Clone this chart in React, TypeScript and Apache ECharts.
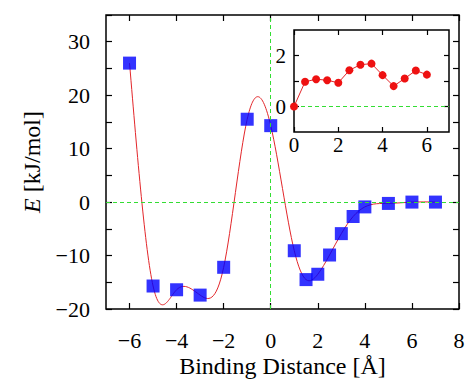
import React, { useEffect, useRef } from "react";
import * as echarts from "echarts";

// Main data: binding energy vs binding distance
const distMain = [-6, -5, -4, -3, -2, -1, 0, 1, 1.5, 2, 2.5, 3, 3.5, 4, 5, 6, 7];
const energyMain = [26, -15.7, -16.4, -17.4, -12.2, 15.5, 14.3, -9.1, -14.5, -13.5, -9.9, -5.9, -2.7, -0.9, -0.25, 0, 0];

// Inset data
const distInset = [0, 0.5, 1, 1.5, 2, 2.5, 3, 3.5, 4, 4.5, 5, 5.5, 6];
const energyInset = [0, 0.97, 1.07, 1.03, 0.93, 1.42, 1.64, 1.68, 1.23, 0.8, 1.1, 1.41, 1.25];

// Tick values
const mainXTicks = [-6, -4, -2, 0, 2, 4, 6, 8];
const insetXTicks = [0, 2, 4, 6];
const insetYTicks = [0, 1, 2];
const insetYLabels = [0, 2];

const FONT = "Liberation Serif";
const fmt = (v: number) => (v < 0 ? "\u2212" + Math.abs(v) : String(v));

// Natural cubic spline slopes (as gnuplot "smooth csplines") at each data point
function splineSlopes(xs: number[], ys: number[]): number[] {
  const n = xs.length;
  const h: number[] = [];
  for (let i = 0; i < n - 1; i++) h.push(xs[i + 1] - xs[i]);
  const a = new Array(n).fill(0);
  const b = new Array(n).fill(1);
  const c = new Array(n).fill(0);
  const d = new Array(n).fill(0);
  for (let i = 1; i < n - 1; i++) {
    a[i] = h[i - 1];
    b[i] = 2 * (h[i - 1] + h[i]);
    c[i] = h[i];
    d[i] = 6 * ((ys[i + 1] - ys[i]) / h[i] - (ys[i] - ys[i - 1]) / h[i - 1]);
  }
  const cp = new Array(n).fill(0);
  const dp = new Array(n).fill(0);
  cp[0] = c[0] / b[0];
  dp[0] = d[0] / b[0];
  for (let i = 1; i < n; i++) {
    const m = b[i] - a[i] * cp[i - 1];
    cp[i] = c[i] / m;
    dp[i] = (d[i] - a[i] * dp[i - 1]) / m;
  }
  const M = new Array(n).fill(0);
  M[n - 1] = dp[n - 1];
  for (let i = n - 2; i >= 0; i--) M[i] = dp[i] - cp[i] * M[i + 1];
  const slopes: number[] = [];
  for (let i = 0; i < n; i++) {
    if (i < n - 1) {
      slopes.push((ys[i + 1] - ys[i]) / h[i] - (h[i] * (2 * M[i] + M[i + 1])) / 6);
    } else {
      slopes.push((ys[i] - ys[i - 1]) / h[i - 1] + (h[i - 1] * (M[i - 1] + 2 * M[i])) / 6);
    }
  }
  return slopes;
}

export default function App() {
  const ref = useRef<HTMLDivElement>(null);
  useEffect(() => {
    if (!ref.current) return;
    const chart = echarts.init(ref.current, undefined, { renderer: "svg" });
    const mainPts = distMain.map((x, i) => [x, energyMain[i]]);
    const insetPts = distInset.map((x, i) => [x, energyInset[i]]);
    const slopes = splineSlopes(distMain, energyMain);
    const tickInside = (len: number) => ({
      show: true,
      inside: true,
      length: len,
      lineStyle: { color: "#000", width: 1.2 },
    });
    const noLine = { show: false, onZero: false };
    const labelStyle = { fontSize: 22, fontFamily: FONT, color: "#000" };
    chart.setOption({
      animation: false,
      backgroundColor: "#fff",
      textStyle: { fontFamily: FONT },
      grid: [
        {
          left: 106,
          top: 15,
          right: 7,
          bottom: 70,
          show: true,
          borderColor: "#000",
          borderWidth: 1.5,
          backgroundColor: "transparent",
          outerBoundsMode: "none",
          containLabel: false,
        },
        {
          left: 294,
          top: 30,
          right: 17,
          bottom: 247,
          show: true,
          borderColor: "#000",
          borderWidth: 1.5,
          backgroundColor: "#fff",
          outerBoundsMode: "none",
          containLabel: false,
        },
      ],
      xAxis: [
        {
          gridIndex: 0,
          type: "value",
          min: -7,
          max: 8,
          position: "bottom",
          axisLine: noLine,
          splitLine: { show: false },
          axisTick: { ...tickInside(6), customValues: mainXTicks },
          axisLabel: { ...labelStyle, margin: 20, lineHeight: 22, customValues: mainXTicks, formatter: fmt },
          name: "Binding Distance [\u00C5]",
          nameLocation: "middle",
          nameGap: 45,
          nameMoveOverlap: false,
          nameTextStyle: { fontSize: 24, lineHeight: 24, fontFamily: FONT, color: "#000" },
        },
        {
          gridIndex: 0,
          type: "value",
          min: -7,
          max: 8,
          position: "top",
          axisLine: noLine,
          splitLine: { show: false },
          axisTick: { ...tickInside(6), customValues: mainXTicks },
          axisLabel: { show: false },
        },
        {
          gridIndex: 1,
          type: "value",
          min: 0,
          max: 7,
          position: "bottom",
          axisLine: noLine,
          splitLine: { show: false },
          axisTick: { ...tickInside(5), customValues: insetXTicks },
          axisLabel: { ...labelStyle, fontSize: 21, margin: 2, customValues: insetXTicks, formatter: fmt },
        },
        {
          gridIndex: 1,
          type: "value",
          min: 0,
          max: 7,
          position: "top",
          axisLine: noLine,
          splitLine: { show: false },
          axisTick: { ...tickInside(5), customValues: insetXTicks },
          axisLabel: { show: false },
        },
      ],
      yAxis: [
        {
          gridIndex: 0,
          type: "value",
          min: -20,
          max: 35,
          interval: 5,
          position: "left",
          axisLine: noLine,
          splitLine: { show: false },
          axisTick: tickInside(6),
          axisLabel: {
            ...labelStyle,
            margin: 16,
            formatter: (v: number) => (v % 10 === 0 && v !== 35 ? fmt(v) : ""),
          },
          name: "{i|E}{n| [kJ/mol]}",
          nameLocation: "middle",
          nameRotate: 90,
          nameGap: 62,
          nameTextStyle: {
            fontSize: 24,
            fontFamily: FONT,
            color: "#000",
            rich: {
              i: { fontSize: 24, fontFamily: FONT, fontStyle: "italic", color: "#000" },
              n: { fontSize: 24, fontFamily: FONT, color: "#000" },
            },
          },
        },
        {
          gridIndex: 0,
          type: "value",
          min: -20,
          max: 35,
          interval: 5,
          position: "right",
          axisLine: noLine,
          splitLine: { show: false },
          axisTick: tickInside(6),
          axisLabel: { show: false },
        },
        {
          gridIndex: 1,
          type: "value",
          min: -1,
          max: 3,
          position: "left",
          axisLine: noLine,
          splitLine: { show: false },
          axisTick: { ...tickInside(5), customValues: insetYTicks },
          axisLabel: { ...labelStyle, fontSize: 21, margin: 8, customValues: insetYLabels, formatter: fmt },
        },
        {
          gridIndex: 1,
          type: "value",
          min: -1,
          max: 3,
          position: "right",
          axisLine: noLine,
          splitLine: { show: false },
          axisTick: { ...tickInside(5), customValues: insetYTicks },
          axisLabel: { show: false },
        },
      ],
      series: [
        {
          type: "line",
          xAxisIndex: 0,
          yAxisIndex: 0,
          data: [],
          markLine: {
            silent: true,
            symbol: ["none", "none"],
            label: { show: false },
            lineStyle: { color: "#33dd33", type: [4, 3], width: 1 },
            data: [{ xAxis: 0 }, { yAxis: 0 }],
          },
        },
        {
          // spline curve through the data, drawn segment by segment via the axes' scales
          type: "custom",
          xAxisIndex: 0,
          yAxisIndex: 0,
          data: mainPts.slice(0, -1).map((p, i) => [p[0], p[1], i]),
          clip: true,
          z: 2,
          renderItem: (params: any, api: any) => {
            const i = api.value(2);
            const x0 = distMain[i];
            const y0 = energyMain[i];
            const x1 = distMain[i + 1];
            const y1 = energyMain[i + 1];
            const h = x1 - x0;
            const p0 = api.coord([x0, y0]);
            const c1 = api.coord([x0 + h / 3, y0 + (slopes[i] * h) / 3]);
            const c2 = api.coord([x1 - h / 3, y1 - (slopes[i + 1] * h) / 3]);
            const p1 = api.coord([x1, y1]);
            return {
              type: "bezierCurve",
              shape: {
                x1: p0[0],
                y1: p0[1],
                cpx1: c1[0],
                cpy1: c1[1],
                cpx2: c2[0],
                cpy2: c2[1],
                x2: p1[0],
                y2: p1[1],
              },
              style: { stroke: "#e3262a", lineWidth: 1, fill: "none" },
            };
          },
        },
        {
          type: "scatter",
          xAxisIndex: 0,
          yAxisIndex: 0,
          data: mainPts,
          symbol: "rect",
          symbolSize: 13,
          itemStyle: { color: "#0000ff" },
          z: 3,
        },
        {
          type: "line",
          xAxisIndex: 2,
          yAxisIndex: 2,
          data: insetPts,
          symbol: "circle",
          symbolSize: 8,
          showSymbol: true,
          lineStyle: { color: "#e3262a", width: 1 },
          itemStyle: { color: "#ee1111" },
          z: 5,
          markLine: {
            silent: true,
            symbol: ["none", "none"],
            label: { show: false },
            lineStyle: { color: "#33dd33", type: [4, 3], width: 1.2 },
            data: [{ yAxis: 0 }],
            z: 4,
          },
        },
      ],
    });
    return () => chart.dispose();
  }, []);
  return (
    <div
      ref={ref}
      style={{ position: "fixed", left: 0, top: 0, width: 466, height: 379 }}
    />
  );
}
